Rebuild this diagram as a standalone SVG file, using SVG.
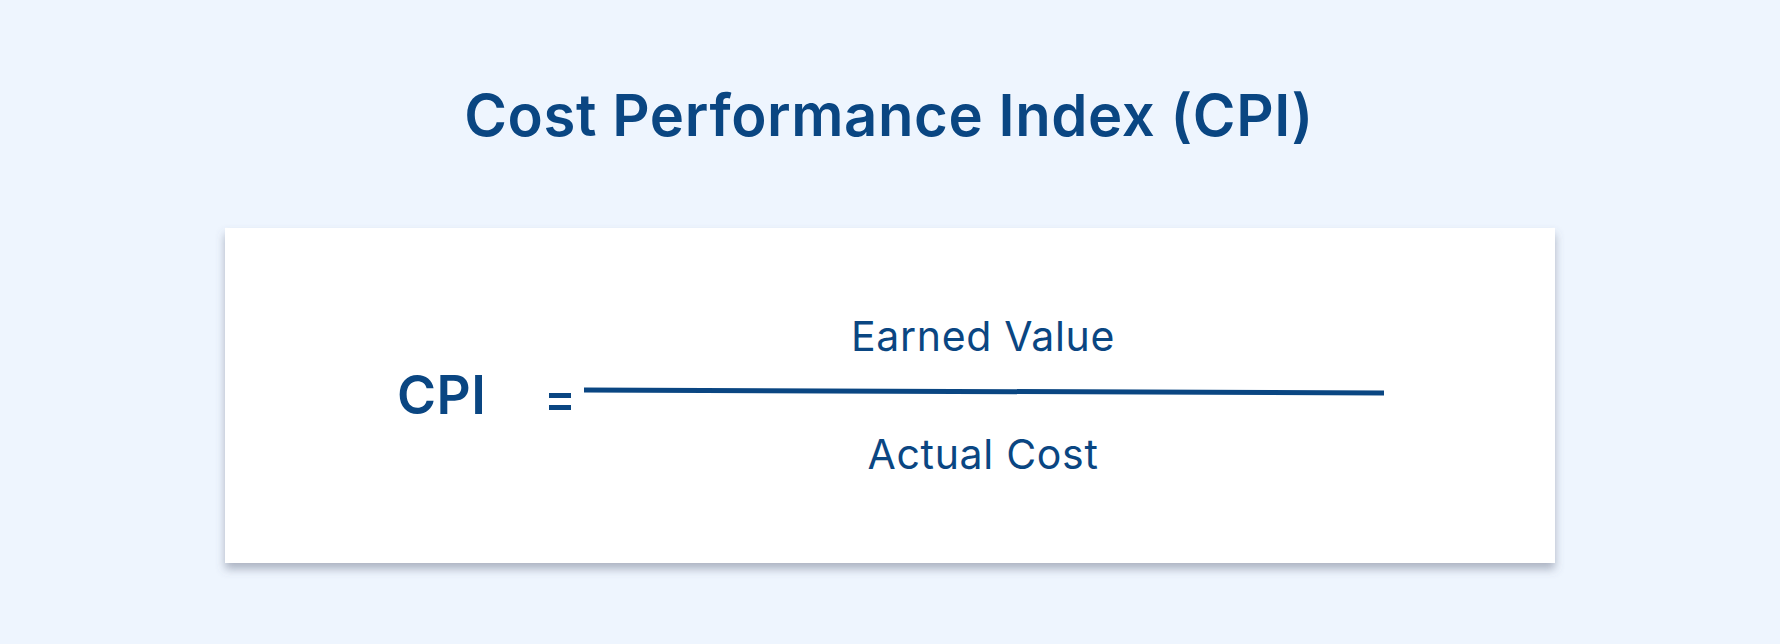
<svg xmlns="http://www.w3.org/2000/svg" width="1780" height="644" viewBox="0 0 1780 644">
  <style>
    .t { font-family: Inter, "Open Sans", "Liberation Sans", sans-serif; fill: #0a4682; }
    .title { font-size: 58px; font-weight: 600; letter-spacing: 0.6px; }
    .big { font-size: 53px; font-weight: 600; letter-spacing: 0.5px; }
    .lbl { font-size: 41px; font-weight: 400; letter-spacing: 0.7px; }
  </style>
  <defs>
    <filter id="shadow" x="-5%" y="-10%" width="110%" height="125%">
      <feDropShadow dx="0" dy="6" stdDeviation="5" flood-color="#5a6478" flood-opacity="0.45"/>
    </filter>
  </defs>
  <rect width="1780" height="644" fill="#eef5fe"/>
  <g id="title">
    <text class="t title" x="889" y="136" text-anchor="middle">Cost Performance Index (CPI)</text>
  </g>
  <g id="card">
    <rect x="225" y="228" width="1330" height="335" fill="#ffffff" filter="url(#shadow)"/>
  </g>
  <g id="formula">
    <text class="t big" x="397" y="414">CPI</text>
    <rect x="549" y="393" width="22" height="5" fill="#0a4682"/>
    <rect x="549" y="405" width="22" height="5" fill="#0a4682"/>
    <line x1="584" y1="390" x2="1384" y2="393" stroke="#0a4682" stroke-width="5"/>
    <text class="t lbl" x="983" y="351" text-anchor="middle">Earned Value</text>
    <text class="t lbl" x="983" y="469" text-anchor="middle">Actual Cost</text>
  </g>
</svg>
